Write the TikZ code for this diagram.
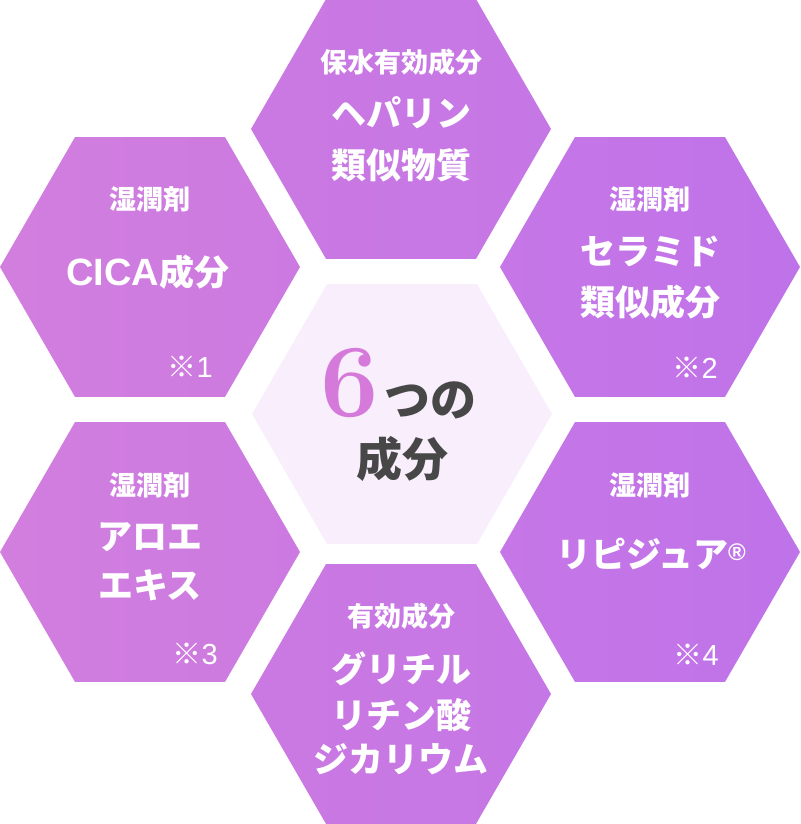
\documentclass[tikz,border=0pt]{standalone}
\usepackage{fontspec}
\usetikzlibrary{shapes.geometric}
\newfontfamily\jp{Noto Sans CJK JP}
\newfontfamily\lsans{Liberation Sans}
\definecolor{hexL1}{HTML}{D27EDF}
\definecolor{hexL2}{HTML}{CC7AE1}
\definecolor{hexM1}{HTML}{CB79E2}
\definecolor{hexM2}{HTML}{C577E5}
\definecolor{hexR1}{HTML}{C676E6}
\definecolor{hexR2}{HTML}{BF73E9}
\definecolor{centerfill}{HTML}{F8EEFC}
\definecolor{sixcol}{HTML}{D57ADB}
\definecolor{darktext}{HTML}{474747}
\begin{document}
\begin{tikzpicture}[x=1pt,y=-1pt,
  hexa/.style={regular polygon, regular polygon sides=6, minimum size=300pt, inner sep=0pt, draw=none},
  hexleft/.style={hexa, left color=hexL1, right color=hexL2},
  hexmid/.style={hexa, left color=hexM1, right color=hexM2},
  hexright/.style={hexa, left color=hexR1, right color=hexR2},
  small/.style={text=white, font=\jp\bfseries\fontsize{27}{27}\selectfont, inner sep=0pt},
  big/.style={text=white, font=\jp\bfseries\fontsize{35}{35}\selectfont, inner sep=0pt},
  note/.style={text=white, font=\lsans\fontsize{29}{29}\selectfont, inner sep=0pt, anchor=east}]
\useasboundingbox (0,0) rectangle (800,824);

% hexagons
\node[hexmid] (htop) at (401,129) {};
\node[hexleft] (hul) at (150,267) {};
\node[hexright] (hur) at (650,267) {};
\node[hexa, fill=centerfill] (hc) at (402,414) {};
\node[hexleft] (hll) at (150,552) {};
\node[hexright] (hlr) at (650,552) {};
\node[hexmid] (hb) at (401,694) {};

% top
\node[small] (t1) at (401,62) {保水有効成分};
\node[big] (t2) at (401,113) {ヘパリン};
\node[big] (t3) at (401,165) {類似物質};

% upper left
\node[small] (ul1) at (150,199) {湿潤剤};
\node[big] (ul2) at (148,272) {{\lsans\fontsize{38}{38}\selectfont CICA}成分};
\node[note] (ul3) at (213,367) {{\jp ※}1};

% upper right
\node[small] (ur1) at (650,199) {湿潤剤};
\node[big] (ur2) at (650,251) {セラミド};
\node[big] (ur3) at (650,302) {類似成分};
\node[note] (ur4) at (718,368) {{\jp ※}2};

% lower left
\node[small] (ll1) at (150,485) {湿潤剤};
\node[big] (ll2) at (150,537) {アロエ};
\node[big] (ll3) at (150,585) {エキス};
\node[note] (ll4) at (218,654) {{\jp ※}3};

% lower right
\node[small] (lr1) at (650,485) {湿潤剤};
\node[big] (lr2) at (651,554) {リピジュア\raisebox{7pt}{\lsans\fontsize{24}{24}\selectfont ®}};
\node[note] (lr4) at (719,655) {{\jp ※}4};

% bottom
\node[small] (b1) at (401,616) {有効成分};
\node[big] (b2) at (401,669) {グリチル};
\node[big] (b3) at (401,715) {リチン酸};
\node[big] (b4) at (401,759) {ジカリウム};

% center
\node[text=sixcol, font=\bfseries\fontsize{104}{104}\selectfont, inner sep=0pt] (six) at (350,383) {6};
\node[text=darktext, font=\jp\bfseries\fontsize{46}{46}\selectfont, inner sep=0pt] (tsuno) at (430,400) {つの};
\node[text=darktext, font=\jp\bfseries\fontsize{46}{46}\selectfont, inner sep=0pt] (seibun) at (402,459) {成分};
\end{tikzpicture}
\end{document}
